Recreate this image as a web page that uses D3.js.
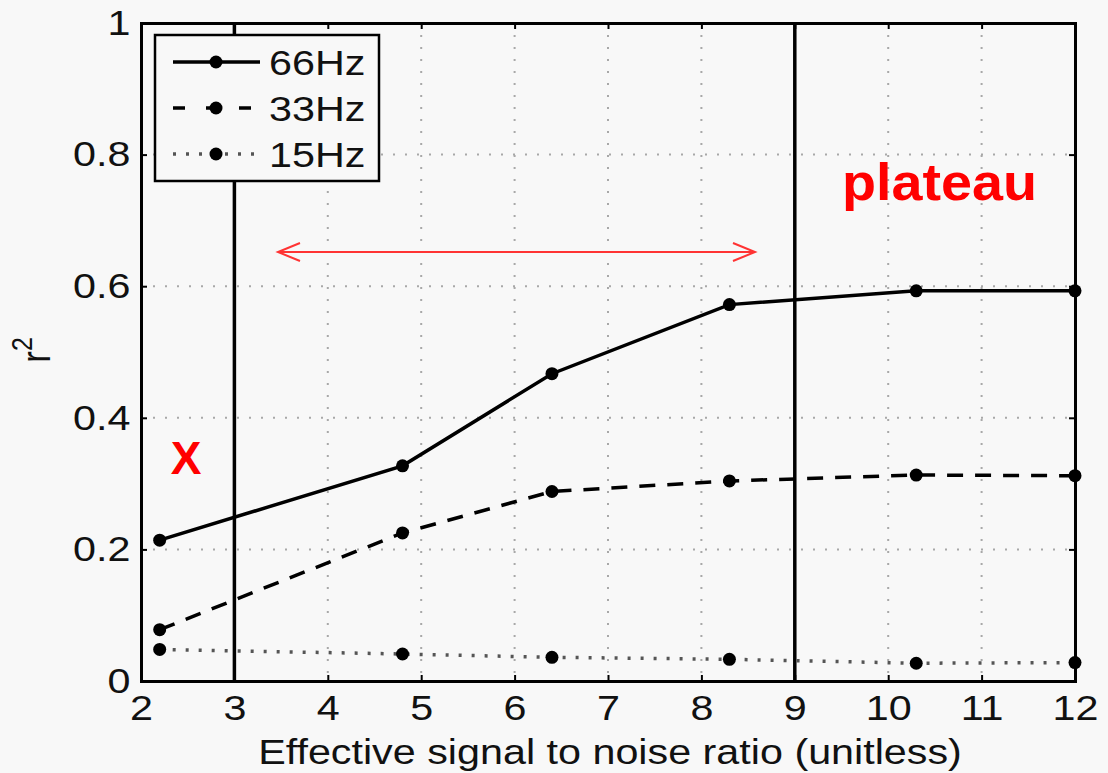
<!DOCTYPE html>
<html>
<head>
<meta charset="utf-8">
<script src="https://cdn.jsdelivr.net/npm/d3@7"></script>
<style>
  body { margin: 0; background: #f8f8f8; }
  svg { display: block; }
  text { font-family: "Liberation Sans", Arial, sans-serif; }
</style>
</head>
<body>
<svg id="vis" width="1108" height="773"></svg>
<script>
// data
const snr = [2.2, 4.8, 6.4, 8.3, 10.3, 12];
const r66 = [0.214, 0.327, 0.467, 0.572, 0.593, 0.593];
const r33 = [0.078, 0.225, 0.288, 0.304, 0.313, 0.312];
const r15 = [0.048, 0.041, 0.036, 0.033, 0.027, 0.028];
const seriesNames = ["66Hz", "33Hz", "15Hz"];
const xTicks = [2, 3, 4, 5, 6, 7, 8, 9, 10, 11, 12];
const yTicks = [0, 0.2, 0.4, 0.6, 0.8, 1];
const markLines = [3, 9];

function draw() {
    let margin = { top: 23, right: 33, bottom: 92, left: 141 };
    let svg = d3.select("#vis");
    let width = +svg.attr("width") - margin.left - margin.right;
    let height = +svg.attr("height") - margin.top - margin.bottom;
    let stretch = "scale(1.18, 1)";

    svg.append("rect").attr("width", 1108).attr("height", 773).attr("fill", "#f8f8f8");

    let g = svg.append("g").attr("transform", `translate(${margin.left}, ${margin.top})`);

    let x = d3.scaleLinear().domain([2, 12]).range([0, width]);
    let y = d3.scaleLinear().domain([0, 1]).range([height, 0]);

    // dotted grid
    g.append("g").selectAll("line")
        .data(xTicks.slice(1, -1))
        .enter().append("line")
        .attr("x1", d => x(d)).attr("x2", d => x(d))
        .attr("y1", 0).attr("y2", height)
        .attr("stroke", "#a8a8a8").attr("stroke-width", 2)
        .attr("stroke-dasharray", "2,10");
    g.append("g").selectAll("line")
        .data(yTicks.slice(1, -1))
        .enter().append("line")
        .attr("y1", d => y(d)).attr("y2", d => y(d))
        .attr("x1", 0).attr("x2", width)
        .attr("stroke", "#a8a8a8").attr("stroke-width", 2)
        .attr("stroke-dasharray", "2,10");

    // axes
    let ax = g.append("g").attr("transform", `translate(0, ${height})`)
        .call(d3.axisBottom(x).tickValues(xTicks).tickSize(-6).tickPadding(14).tickFormat(d3.format("d")));
    let axTop = g.append("g")
        .call(d3.axisTop(x).tickValues(xTicks).tickSize(-6).tickFormat(""));
    let ay = g.append("g")
        .call(d3.axisLeft(y).tickValues(yTicks).tickSize(-6).tickPadding(9).tickFormat(d => d === 0 || d === 1 ? d : d3.format(".1f")(d)));
    let ayR = g.append("g").attr("transform", `translate(${width}, 0)`)
        .call(d3.axisRight(y).tickValues(yTicks).tickSize(-6).tickFormat(""));
    [ax, axTop, ay, ayR].forEach(a => {
        a.select(".domain").attr("stroke", "#000").attr("stroke-width", 3);
        a.selectAll(".tick line").attr("stroke", "#000").attr("stroke-width", 2);
        a.selectAll("text").attr("font-size", 35).attr("fill", "#111")
            .attr("transform", stretch)
            .attr("font-family", "'Liberation Sans', Arial, sans-serif");
    });
    ax.selectAll(".tick text").attr("dy", "0.71em");

    // vertical marker lines
    g.selectAll(".vline").data(markLines).enter().append("line")
        .attr("x1", d => x(d)).attr("x2", d => x(d))
        .attr("y1", 0).attr("y2", height)
        .attr("stroke", "#000").attr("stroke-width", 3.5);

    // series
    let series = [
        { name: seriesNames[0], vals: r66, dash: null, color: "#000" },
        { name: seriesNames[1], vals: r33, dash: "16,12", color: "#000" },
        { name: seriesNames[2], vals: r15, dash: "3,10", color: "#555" }
    ];
    let line = d3.line().x(d => x(d[0])).y(d => y(d[1]));
    series.forEach(s => {
        let pts = snr.map((v, i) => [v, s.vals[i]]);
        g.append("path").datum(pts)
            .attr("fill", "none").attr("stroke", s.color).attr("stroke-width", 3.5)
            .attr("stroke-dasharray", s.dash)
            .attr("d", line);
        g.selectAll(null).data(pts).enter().append("circle")
            .attr("cx", d => x(d[0])).attr("cy", d => y(d[1]))
            .attr("r", 6.5).attr("fill", "#000");
    });

    // legend
    let lg = svg.append("g").attr("transform", "translate(155, 35)");
    lg.append("rect").attr("width", 224).attr("height", 146)
        .attr("fill", "#f8f8f8").attr("stroke", "#000").attr("stroke-width", 2.5);
    series.forEach((s, i) => {
        let yy = 27 + i * 46;
        lg.append("line").attr("x1", 18).attr("x2", 105).attr("y1", yy).attr("y2", yy)
            .attr("stroke", s.color).attr("stroke-width", 3.5)
            .attr("stroke-dasharray", s.dash === "16,12" ? "12,21" : s.dash);
        lg.append("circle").attr("cx", 61).attr("cy", yy).attr("r", 6.5).attr("fill", "#000");
        lg.append("text").attr("transform", `translate(114, ${yy}) ${stretch}`).attr("dy", "0.36em")
            .attr("font-size", 35).attr("fill", "#111").text(s.name);
    });

    // axis titles
    svg.append("text").attr("transform", `translate(${margin.left + width / 2 + 2}, 764) ${stretch}`)
        .attr("text-anchor", "middle").attr("font-size", 35).attr("fill", "#111")
        .text("Effective signal to noise ratio (unitless)");
    let yl = svg.append("text").attr("transform", "translate(50, 350) rotate(-90) scale(1, 1.18)")
        .attr("text-anchor", "middle").attr("font-size", 35).attr("fill", "#111");
    yl.append("tspan").text("r");
    yl.append("tspan").attr("dy", -15).attr("font-size", 25).text("2");

    // annotations
    let ay0 = 252, xa = 278, xb = 755;
    let red = "#ff3333";
    svg.append("line").attr("x1", xa).attr("x2", xb).attr("y1", ay0).attr("y2", ay0)
        .attr("stroke", red).attr("stroke-width", 2);
    svg.append("path").attr("d", `M${xa + 22},${ay0 - 9} L${xa},${ay0} L${xa + 22},${ay0 + 9}`)
        .attr("fill", "none").attr("stroke", red).attr("stroke-width", 2);
    svg.append("path").attr("d", `M${xb - 22},${ay0 - 9} L${xb},${ay0} L${xb - 22},${ay0 + 9}`)
        .attr("fill", "none").attr("stroke", red).attr("stroke-width", 2);

    svg.append("text").attr("x", 186).attr("y", 474).attr("text-anchor", "middle")
        .attr("font-family", "'Open Sans', sans-serif").attr("font-weight", "bold")
        .attr("font-size", 46).attr("fill", "#ff0000").text("X");
    svg.append("text").attr("x", 842).attr("y", 200)
        .attr("font-family", "'Open Sans', sans-serif").attr("font-weight", "bold")
        .attr("font-size", 52).attr("fill", "#ff0000")
        .attr("textLength", 195).attr("lengthAdjust", "spacingAndGlyphs").text("plateau");
}

document.addEventListener('DOMContentLoaded', () => {
    draw();
});
</script>
</body>
</html>
